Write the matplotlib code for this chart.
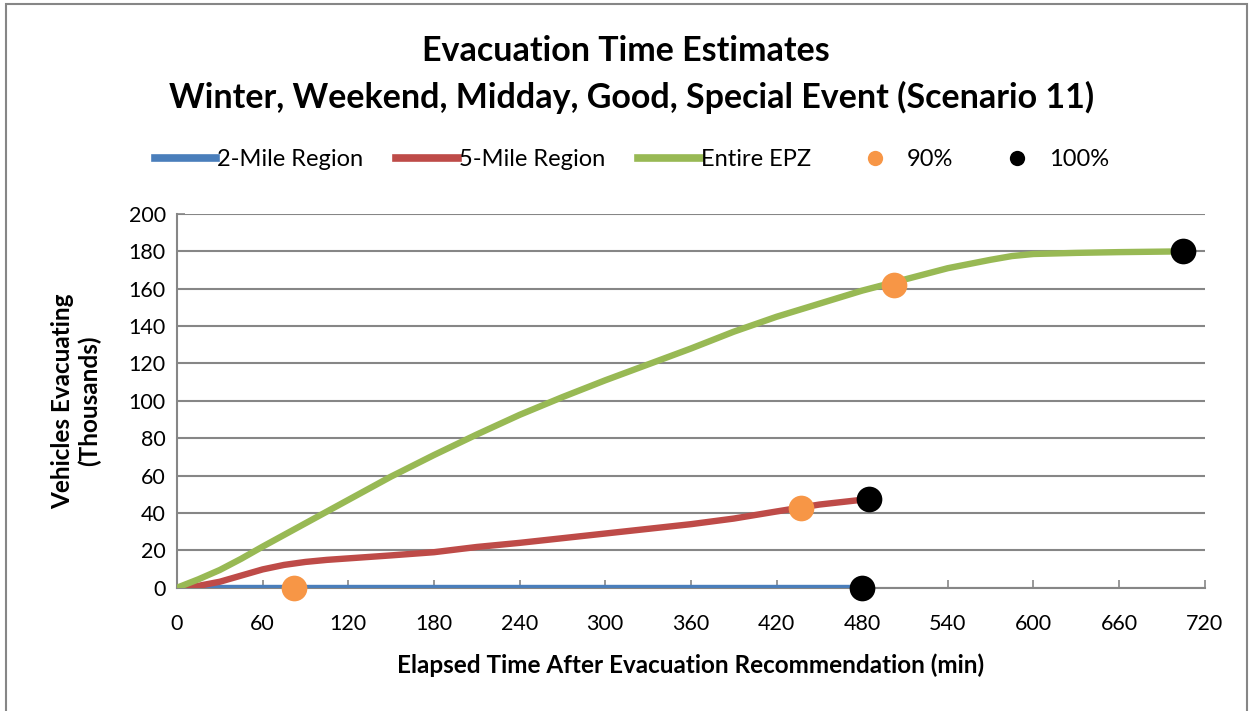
import matplotlib.pyplot as plt
from matplotlib.lines import Line2D
from matplotlib.patches import Rectangle

# --- data ---
t_2mile = [0, 480]
v_2mile = [0, 0]

t_5mile = [0, 15, 30, 45, 60, 75, 90, 105, 120, 150, 180, 210, 240, 270, 300, 330, 360,
           390, 420, 450, 485]
v_5mile = [0, 1, 3.2, 6.5, 9.8, 12.2, 13.8, 14.9, 15.7, 17.3, 19, 21.8, 24, 26.5, 29,
           31.5, 34, 37, 40.8, 44.5, 47.5]

t_epz = [0, 15, 30, 45, 60, 90, 120, 150, 180, 210, 240, 270, 300, 330, 360, 390, 420,
         450, 480, 510, 540, 570, 585, 600, 630, 660, 705]
v_epz = [0, 4.5, 9.5, 15.5, 22, 34.5, 47, 59.5, 71, 82, 92.5, 102, 111, 119.5, 128, 137,
         145, 152, 159, 165, 171, 175.5, 177.5, 178.6, 179.2, 179.6, 180]

t_90 = [82, 437, 502]
v_90 = [0, 42.5, 162]
t_100 = [480, 485, 705]
v_100 = [0, 47.5, 180]

C_BLUE, C_RED, C_GREEN = "#4A7EBB", "#BE4B48", "#98B954"
C_ORANGE, C_BLACK, C_GRID = "#F79646", "#000000", "#868686"

plt.rcParams["font.family"] = ["Lato", "DejaVu Sans"]

fig = plt.figure(figsize=(12.51, 7.11), dpi=100)
ax = fig.add_axes([0.1415, 0.1734, 0.8215, 0.5256])

ax.plot(t_2mile, v_2mile, color=C_BLUE, lw=4.6, solid_capstyle="butt",
        solid_joinstyle="round", zorder=3)
ax.plot(t_5mile, v_5mile, color=C_RED, lw=4.6, solid_capstyle="butt",
        solid_joinstyle="round", zorder=3)
ax.plot(t_epz, v_epz, color=C_GREEN, lw=4.6, solid_capstyle="butt",
        solid_joinstyle="round", zorder=3)
ax.plot(t_90, v_90, "o", color=C_ORANGE, ms=18.5, mec="none", zorder=5, clip_on=False)
ax.plot(t_100, v_100, "o", color=C_BLACK, ms=18.5, mec="none", zorder=5, clip_on=False)

ax.set_xlim(0, 720)
ax.set_ylim(0, 200)
ax.set_xticks(range(0, 721, 60))
ax.set_yticks(range(0, 201, 20))
ax.grid(axis="y", color=C_GRID, lw=1.5)
ax.set_axisbelow(True)
for s in ("top", "right"):
    ax.spines[s].set_visible(False)
for s in ("left", "bottom"):
    ax.spines[s].set_color(C_GRID)
    ax.spines[s].set_linewidth(1.5)
ax.tick_params(direction="in", length=6, color=C_GRID, width=1.2, labelsize=15.5)
ax.tick_params(axis="x", pad=19)
ax.tick_params(axis="y", pad=8)

ax.set_xlabel("Elapsed Time After Evacuation Recommendation (min)", fontsize=17.5,
              fontweight="bold", labelpad=14)
ax.set_ylabel("Vehicles Evacuating\n(Thousands)", fontsize=17.5, fontweight="bold",
              labelpad=20, linespacing=1.15)

fig.text(0.5, 0.928, "Evacuation Time Estimates", ha="center", va="center",
         fontsize=24.5, fontweight="bold")
fig.text(0.505, 0.863, "Winter, Weekend, Midday, Good, Special Event (Scenario 11)",
         ha="center", va="center", fontsize=24.5, fontweight="bold")

handles = [
    Line2D([], [], color=C_BLUE, lw=5.5),
    Line2D([], [], color=C_RED, lw=5.5),
    Line2D([], [], color=C_GREEN, lw=5.5),
    Line2D([], [], ls="none", marker="o", color=C_ORANGE, ms=11, mec="none"),
    Line2D([], [], ls="none", marker="o", color=C_BLACK, ms=11, mec="none"),
]
labels = ["2-Mile Region", "5-Mile Region", "Entire EPZ", "90%", "100%"]
fig.legend(handles, labels, loc="center", bbox_to_anchor=(0.505, 0.775), ncol=5,
           frameon=False, fontsize=17, handlelength=2.6, handletextpad=0.05,
           columnspacing=1.4)

fig.add_artist(Rectangle((0.005, -0.01), 0.992, 1.005, transform=fig.transFigure,
                         fill=False, edgecolor=C_GRID, lw=1.5))

fig.savefig("out.png", dpi=100)
